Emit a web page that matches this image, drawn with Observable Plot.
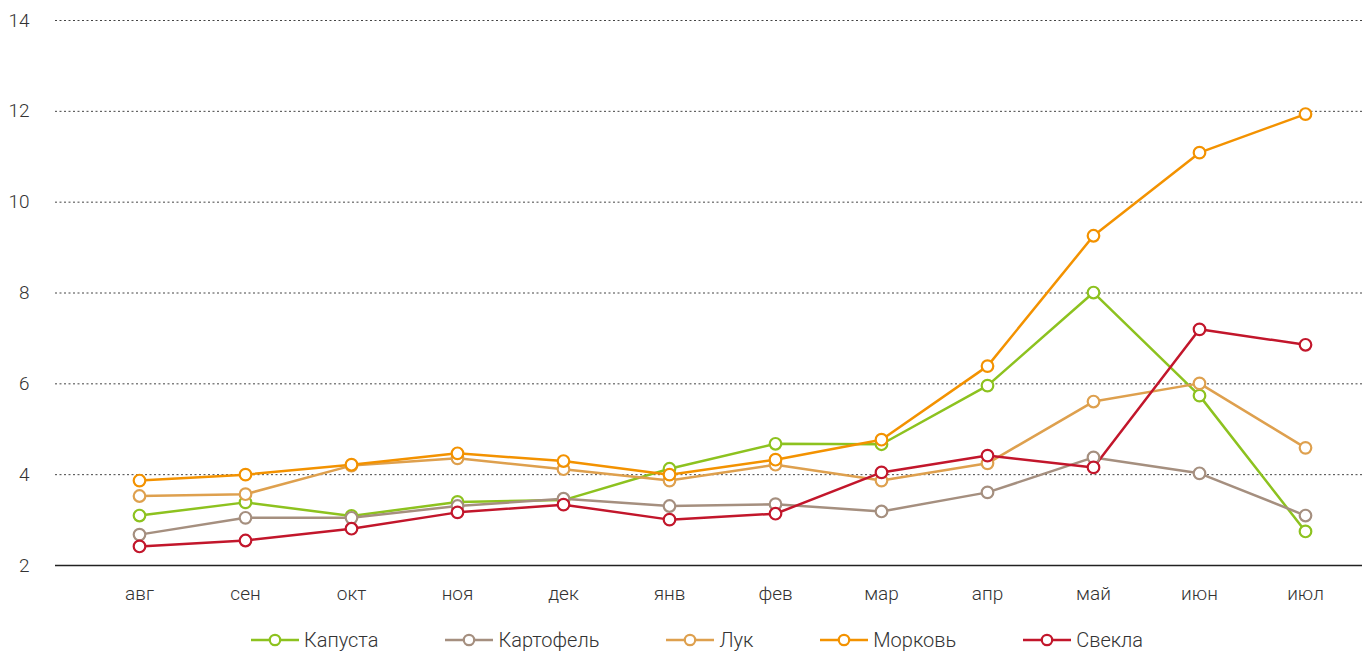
<!DOCTYPE html>
<html>
<head>
<meta charset="utf-8">
<script src="https://cdn.jsdelivr.net/npm/d3@7"></script>
<script src="https://cdn.jsdelivr.net/npm/@observablehq/plot@0.6"></script>
<style>
  html, body { margin: 0; padding: 0; background: #fff; }
  body { width: 1369px; height: 652px; overflow: hidden; font-family: "Roboto", "Liberation Sans", sans-serif; font-weight: 300; }
  #chart svg { display: block; }
  #legend { display: flex; justify-content: center; align-items: center; height: 37px; padding-top: 6px; margin-left: 24px; font-size: 20px; color: #333; }
  .item { display: flex; align-items: center; margin: 0 33px; }
  .item svg { margin-right: 4px; }
</style>
</head>
<body>
<div id="chart"></div>
<div id="legend"></div>
<script>
const months = ["авг", "сен", "окт", "ноя", "дек", "янв", "фев", "мар", "апр", "май", "июн", "июл"];
const seriesNames = ["Капуста", "Картофель", "Лук", "Морковь", "Свекла"];
const seriesColors = ["#8dc21f", "#a58f7f", "#dea04e", "#f39200", "#c2162b"];
const yTicks = [2, 4, 6, 8, 10, 12, 14];

const kapusta   = [3.10, 3.39, 3.09, 3.40, 3.44, 4.13, 4.68, 4.67, 5.96, 8.01, 5.74, 2.75];
const kartofel  = [2.68, 3.05, 3.05, 3.31, 3.47, 3.31, 3.35, 3.19, 3.61, 4.38, 4.03, 3.10];
const luk       = [3.53, 3.57, 4.20, 4.36, 4.12, 3.87, 4.22, 3.87, 4.25, 5.61, 6.01, 4.59];
const morkov    = [3.87, 4.00, 4.22, 4.47, 4.30, 4.00, 4.33, 4.77, 6.39, 9.26, 11.09, 11.94];
const svekla    = [2.42, 2.55, 2.81, 3.17, 3.34, 3.01, 3.14, 4.05, 4.42, 4.16, 7.20, 6.86];

const seriesValues = [kapusta, kartofel, luk, morkov, svekla];
const data = [];
seriesNames.forEach((name, i) => {
  months.forEach((m, j) => data.push({series: name, month: m, value: seriesValues[i][j]}));
});

const chart = Plot.plot({
  width: 1369,
  height: 615,
  marginTop: 20,
  marginBottom: 50,
  marginLeft: 55,
  marginRight: 7,
  style: {fontFamily: '"Roboto", "Liberation Sans", sans-serif', fontSize: "19px", color: "#333", fontWeight: 300, background: "#fff"},
  x: {type: "point", domain: months, padding: 0.644, align: 0.599, label: null},
  y: {domain: [2, 14], ticks: yTicks, label: null},
  color: {domain: seriesNames, range: seriesColors},
  marks: [
    Plot.ruleY(yTicks.filter(d => d > 2), {stroke: "#444", strokeWidth: 1, strokeDasharray: "2,2.5"}),
    Plot.axisY({ticks: yTicks, tickSize: 0, tickPadding: 26, fontSize: 19, label: null}),
    Plot.axisX({tickSize: 0, tickPadding: 21, fontSize: 19, label: null}),
    Plot.line(data, {x: "month", y: "value", z: "series", stroke: "series", strokeWidth: 2.5}),
    Plot.dot(data, {x: "month", y: "value", stroke: "series", fill: "white", r: 5.8, strokeWidth: 2.2}),
    Plot.ruleY([2], {stroke: "#222", strokeWidth: 1.3})
  ]
});
document.getElementById("chart").appendChild(chart);

const legend = document.getElementById("legend");
seriesNames.forEach((name, i) => {
  const c = seriesColors[i];
  const item = document.createElement("div");
  item.className = "item";
  item.innerHTML = `<svg width="50" height="16"><line x1="1" x2="49" y1="8" y2="8" stroke="${c}" stroke-width="2.5"/><circle cx="25" cy="8" r="5.2" fill="white" stroke="${c}" stroke-width="2.2"/></svg><span>${name}</span>`;
  legend.appendChild(item);
});
</script>
</body>
</html>
